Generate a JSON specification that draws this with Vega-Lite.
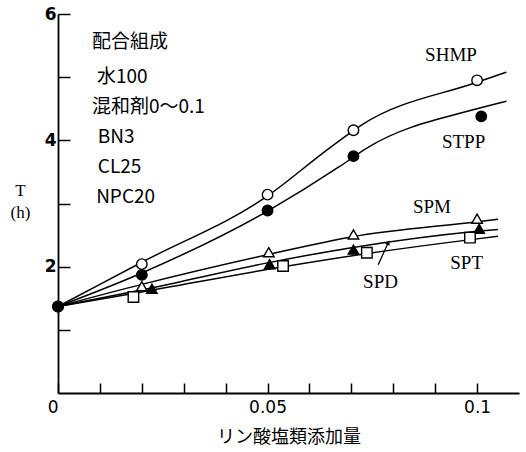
{
  "$schema": "https://vega.github.io/schema/vega-lite/v6.json",
  "width": 461,
  "height": 379,
  "autosize": "none",
  "padding": {"left": 58, "top": 14, "right": 7, "bottom": 59},
  "background": "white",
  "config": {"view": {"stroke": null}},
  "datasets": {
    "curves": [
      {"series": "SHMP", "x": 0, "y": 1.37}, {"series": "SHMP", "x": 0.02, "y": 2.07}, {"series": "SHMP", "x": 0.05, "y": 3.12}, {"series": "SHMP", "x": 0.065, "y": 3.89}, {"series": "SHMP", "x": 0.0726, "y": 4.25}, {"series": "SHMP", "x": 0.1, "y": 4.92}, {"series": "SHMP", "x": 0.107, "y": 5.08},
      {"series": "STPP", "x": 0, "y": 1.37}, {"series": "STPP", "x": 0.02, "y": 1.9}, {"series": "STPP", "x": 0.05, "y": 2.88}, {"series": "STPP", "x": 0.0673, "y": 3.59}, {"series": "STPP", "x": 0.0735, "y": 3.87}, {"series": "STPP", "x": 0.1, "y": 4.5}, {"series": "STPP", "x": 0.107, "y": 4.62},
      {"series": "SPM", "x": 0, "y": 1.37}, {"series": "SPM", "x": 0.02, "y": 1.72}, {"series": "SPM", "x": 0.05, "y": 2.19}, {"series": "SPM", "x": 0.07, "y": 2.47}, {"series": "SPM", "x": 0.1, "y": 2.71}, {"series": "SPM", "x": 0.105, "y": 2.75},
      {"series": "SPT", "x": 0, "y": 1.37}, {"series": "SPT", "x": 0.022, "y": 1.66}, {"series": "SPT", "x": 0.05, "y": 2.06}, {"series": "SPT", "x": 0.07, "y": 2.3}, {"series": "SPT", "x": 0.1, "y": 2.56}, {"series": "SPT", "x": 0.105, "y": 2.59},
      {"series": "SPD", "x": 0, "y": 1.37}, {"series": "SPD", "x": 0.02, "y": 1.6}, {"series": "SPD", "x": 0.053, "y": 1.99}, {"series": "SPD", "x": 0.073, "y": 2.2}, {"series": "SPD", "x": 0.1, "y": 2.44}, {"series": "SPD", "x": 0.105, "y": 2.48}
    ],
    "points": [
      {"series": "SHMP", "x": 0, "y": 1.37}, {"series": "SHMP", "x": 0.02, "y": 2.04}, {"series": "SHMP", "x": 0.05, "y": 3.14}, {"series": "SHMP", "x": 0.0705, "y": 4.16}, {"series": "SHMP", "x": 0.1, "y": 4.95},
      {"series": "STPP", "x": 0, "y": 1.37}, {"series": "STPP", "x": 0.02, "y": 1.87}, {"series": "STPP", "x": 0.05, "y": 2.89}, {"series": "STPP", "x": 0.0705, "y": 3.75}, {"series": "STPP", "x": 0.101, "y": 4.38},
      {"series": "SPM", "x": 0.02, "y": 1.69}, {"series": "SPM", "x": 0.0503, "y": 2.23}, {"series": "SPM", "x": 0.0705, "y": 2.51}, {"series": "SPM", "x": 0.1, "y": 2.76},
      {"series": "SPT", "x": 0.0224, "y": 1.65}, {"series": "SPT", "x": 0.0505, "y": 2.04}, {"series": "SPT", "x": 0.0705, "y": 2.27}, {"series": "SPT", "x": 0.1005, "y": 2.6},
      {"series": "SPD", "x": 0.018, "y": 1.52}, {"series": "SPD", "x": 0.0537, "y": 2.01}, {"series": "SPD", "x": 0.0737, "y": 2.22}, {"series": "SPD", "x": 0.0983, "y": 2.46}
    ],
    "labels": [
      {"text": "SHMP", "x": 0.0876, "y": 5.35},
      {"text": "STPP", "x": 0.0916, "y": 3.98},
      {"text": "SPM", "x": 0.0847, "y": 2.95},
      {"text": "SPT", "x": 0.0936, "y": 2.06},
      {"text": "SPD", "x": 0.0728, "y": 1.76}
    ],
    "notes": [
      {"text": "配合組成", "x": 0.0081, "y": 5.56, "w": "bold"},
      {"text": "水100", "x": 0.0093, "y": 5.0, "w": "normal"},
      {"text": "混和剤0〜0.1", "x": 0.0081, "y": 4.52, "w": "normal"},
      {"text": "BN3", "x": 0.0095, "y": 4.05, "w": "normal"},
      {"text": "CL25", "x": 0.0095, "y": 3.57, "w": "normal"},
      {"text": "NPC20", "x": 0.0091, "y": 3.1, "w": "normal"}
    ],
    "arrow": [{"x": 0.0764, "y": 2.03, "x2": 0.0788, "y2": 2.38}]
  },
  "encoding": {
    "x": {"type": "quantitative"},
    "y": {"type": "quantitative"}
  },
  "layer": [
    {
      "data": {"name": "curves"},
      "mark": {"type": "line", "interpolate": "monotone", "stroke": "black", "strokeWidth": 1.5},
      "encoding": {
        "x": {"field": "x", "type": "quantitative",
          "scale": {"domain": [0, 0.11], "nice": false, "zero": false},
          "axis": {
            "values": [0, 0.01, 0.02, 0.03, 0.04, 0.05, 0.06, 0.07, 0.08, 0.09, 0.1],
            "labelExpr": "datum.value == 0 ? '0' : (abs(datum.value - 0.05) < 1e-9 ? '0.05' : (abs(datum.value - 0.1) < 1e-9 ? '0.1' : ''))",
            "labelAlign": {"condition": {"test": "datum.value == 0", "value": "right"}, "value": "center"},
            "title": "リン酸塩類添加量",
            "titleFont": "Noto Sans CJK JP", "titleFontSize": 18, "titleFontWeight": "normal", "titleColor": "black", "titlePadding": 13,
            "labelFont": "DejaVu Sans", "labelFontSize": 17, "labelColor": "black", "labelPadding": 16,
            "grid": false, "tickSize": -10, "tickColor": "black", "tickWidth": 1.5,
            "domainColor": "black", "domainWidth": 1.8
          }
        },
        "y": {"field": "y", "type": "quantitative",
          "scale": {"domain": [0, 6], "nice": false},
          "axis": {
            "values": [1, 2, 3, 4, 5, 6],
            "labelExpr": "datum.value % 2 == 0 ? format(datum.value, 'd') : ''",
            "title": ["T", "(h)"],
            "titleFont": "Liberation Serif", "titleFontSize": 17, "titleFontWeight": "normal", "titleColor": "black",
            "titleAngle": 0, "titleX": -38, "titleY": 176, "titleAlign": "center", "titleBaseline": "middle", "titleLineHeight": 22,
            "labelFont": "DejaVu Sans", "labelFontSize": 17, "labelFontWeight": "bold", "labelColor": "black", "labelPadding": 14,
            "grid": false, "tickSize": -12, "tickColor": "black", "tickWidth": 1.5,
            "domainColor": "black", "domainWidth": 1.8
          }
        },
        "detail": {"field": "series", "type": "nominal"}
      }
    },
    {
      "data": {"name": "points"},
      "mark": {"type": "point", "filled": true, "stroke": "black", "strokeWidth": 1.4, "size": 110, "opacity": 1},
      "encoding": {
        "x": {"field": "x", "type": "quantitative"},
        "y": {"field": "y", "type": "quantitative"},
        "shape": {"field": "series", "type": "nominal", "legend": null,
          "scale": {"domain": ["SHMP", "STPP", "SPM", "SPT", "SPD"], "range": ["circle", "circle", "triangle-up", "triangle-up", "square"]}},
        "fill": {"field": "series", "type": "nominal", "legend": null,
          "scale": {"domain": ["SHMP", "STPP", "SPM", "SPT", "SPD"], "range": ["white", "black", "white", "black", "white"]}}
      }
    },
    {
      "data": {"name": "arrow"},
      "mark": {"type": "rule", "stroke": "black", "strokeWidth": 1.3},
      "encoding": {
        "x": {"field": "x", "type": "quantitative"},
        "y": {"field": "y", "type": "quantitative"},
        "x2": {"field": "x2"},
        "y2": {"field": "y2"}
      }
    },
    {
      "data": {"name": "arrow"},
      "mark": {"type": "point", "shape": "triangle-up", "filled": true, "color": "black", "size": 28, "angle": 24, "opacity": 1},
      "encoding": {
        "x": {"field": "x2", "type": "quantitative"},
        "y": {"field": "y2", "type": "quantitative"}
      }
    },
    {
      "data": {"name": "labels"},
      "mark": {"type": "text", "align": "left", "baseline": "middle", "font": "Liberation Serif", "fontSize": 19, "color": "black"},
      "encoding": {
        "x": {"field": "x", "type": "quantitative"},
        "y": {"field": "y", "type": "quantitative"},
        "text": {"field": "text"}
      }
    },
    {
      "data": {"name": "notes"},
      "mark": {"type": "text", "align": "left", "baseline": "middle", "font": "Noto Sans CJK JP", "fontSize": 19, "color": "black"},
      "encoding": {
        "x": {"field": "x", "type": "quantitative"},
        "y": {"field": "y", "type": "quantitative"},
        "text": {"field": "text"},
        "fontWeight": {"field": "w", "type": "nominal", "scale": null}
      }
    }
  ]
}
